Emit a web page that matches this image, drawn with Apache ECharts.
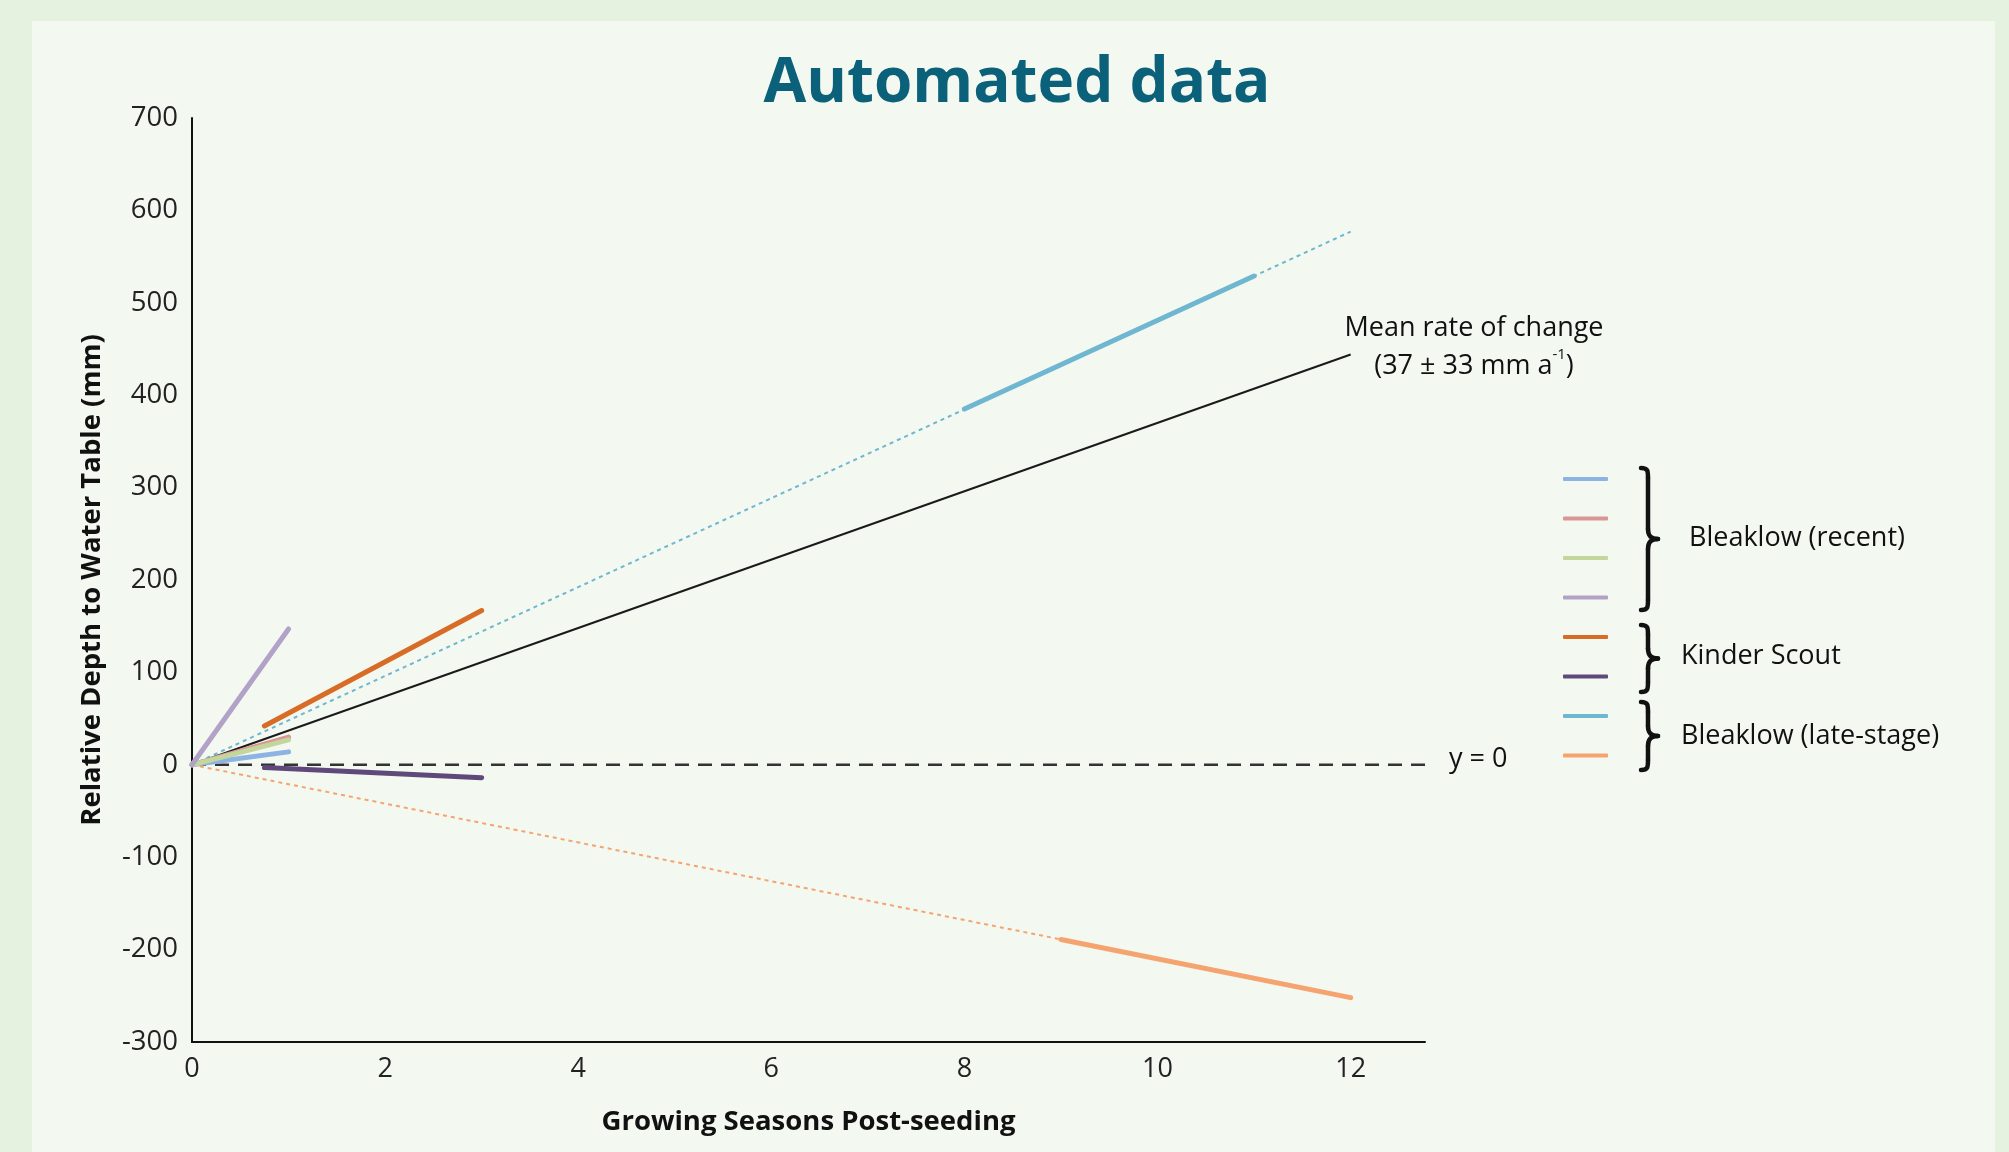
<!DOCTYPE html>
<html>
<head>
<meta charset="utf-8">
<script src="https://cdn.jsdelivr.net/npm/echarts@6/dist/echarts.min.js"></script>
<style>
html,body{margin:0;padding:0;background:#e4f2df;}
#chart{width:2009px;height:1152px;}
</style>
</head>
<body>
<div id="chart"></div>
<script>
// ---- data ----
const seasonsRecent = [0, 1];
const recentBlue = [0, 14];
const recentPink = [0, 30];
const recentGreen = [0, 27];
const recentLavender = [0, 147];

const seasonsKinder = [0.75, 3];
const kinderOrange = [42, 167];
const kinderPurple = [-3, -14];

const seasonsLateBlue = [8, 11];
const lateBlue = [385, 529];
const seasonsLateOrange = [9, 12];
const lateOrange = [-189, -252];

const trendSeasons = [0, 12];
const lateBlueTrend = [0, 577];
const lateOrangeTrend = [0, -252];
const meanTrend = [0, 444];

const zeroSeasons = [0, 12.77];
const zeroValues = [0, 0];

const yTicks = [-300, -200, -100, 0, 100, 200, 300, 400, 500, 600, 700];
const xTicks = [0, 2, 4, 6, 8, 10, 12];

const legendNames = ['Bleaklow (recent) 1', 'Bleaklow (recent) 2', 'Bleaklow (recent) 3', 'Bleaklow (recent) 4',
  'Kinder Scout 1', 'Kinder Scout 2', 'Bleaklow (late-stage) 1', 'Bleaklow (late-stage) 2'];
const groupLabels = ['Bleaklow (recent)', 'Kinder Scout', 'Bleaklow (late-stage)'];
const meanLabel = ['Mean rate of change', '(37 ± 33 mm a{sup|-1})'];

const C = {
  blue: '#8db3e2', pink: '#d99694', green: '#c3d69b', lav: '#b3a2c7',
  kOrange: '#d86b26', kPurple: '#5f497a', lBlue: '#6fb6d0', lOrange: '#f6a46f'
};

function pairs(xs, ys) { return xs.map((x, i) => [x, ys[i]]); }

function solid(name, xs, ys, color) {
  return { name, type: 'line', data: pairs(xs, ys), showSymbol: false, symbol: 'none', z: 5,
    color, itemStyle: { color }, lineStyle: { color, width: 5, cap: 'round' } };
}
function dotted(name, xs, ys, color, w, dash, z) {
  return { name, type: 'line', data: pairs(xs, ys), showSymbol: false, symbol: 'none', z: z || 3,
    color, itemStyle: { color }, lineStyle: { color, width: w, type: dash } };
}

function brace(x, y0, y1) {
  const s = 7, w = 17, r = 10, ym = (y0 + y1) / 2;
  const st = { stroke: '#111', lineWidth: 4.5, fill: null, lineCap: 'round' };
  const bz = (x1, y1_, cpx1, cpy1, cpx2, cpy2, x2, y2) => ({ type: 'bezierCurve',
    shape: { x1, y1: y1_, cpx1, cpy1, cpx2, cpy2, x2, y2 }, style: st });
  const ln = (x1, y1_, x2, y2) => ({ type: 'line', shape: { x1, y1: y1_, x2, y2 }, style: st });
  return { type: 'group', silent: true, children: [
    bz(x, y0, x + s, y0, x + s, y0 + 3, x + s, y0 + r),
    ln(x + s, y0 + r, x + s, ym - r),
    bz(x + s, ym - r, x + s, ym - 3, x + s + 3, ym, x + w, ym),
    bz(x + w, ym, x + s + 3, ym, x + s, ym + 3, x + s, ym + r),
    ln(x + s, ym + r, x + s, y1 - r),
    bz(x + s, y1 - r, x + s, y1 - 3, x + s, y1, x, y1)
  ] };
}

const chart = echarts.init(document.getElementById('chart'));
const font = '"Open Sans", "Liberation Sans", sans-serif';

const option = {
  animation: false,
  backgroundColor: '#e4f2df',
  textStyle: { fontFamily: font },
  title: {
    text: 'Automated data', left: 1012, top: 48, textAlign: 'center',
    textStyle: { fontFamily: font, fontWeight: 'bold', fontSize: 62, color: '#0b6179' }
  },
  grid: { left: 192, right: 584, top: 118, bottom: 110, containLabel: false },
  xAxis: {
    type: 'value', min: 0, max: 12.77, interval: 2,
    name: 'Growing Seasons Post-seeding', nameLocation: 'middle', nameGap: 66,
    nameTextStyle: { fontFamily: font, fontWeight: 'bold', fontSize: 27.5, color: '#111' },
    axisLine: { onZero: false, lineStyle: { color: '#111', width: 2 } },
    axisTick: { show: false }, splitLine: { show: false },
    axisLabel: { showMaxLabel: false, fontSize: 27, color: '#222', margin: 14,
      formatter: v => (xTicks.includes(v) ? String(v) : '') }
  },
  yAxis: {
    type: 'value', min: yTicks[0], max: yTicks[yTicks.length - 1], interval: 100,
    name: 'Relative Depth to Water Table (mm)', nameLocation: 'middle', nameGap: 86, nameRotate: 90,
    nameTextStyle: { fontFamily: font, fontWeight: 'bold', fontSize: 27.5, color: '#111' },
    axisLine: { show: true, onZero: false, lineStyle: { color: '#111', width: 2 } },
    axisTick: { show: false }, splitLine: { show: false },
    axisLabel: { fontSize: 27.5, color: '#222', margin: 14 }
  },
  legend: {
    data: legendNames, orient: 'vertical', left: 1558, top: 472,
    itemWidth: 45, itemHeight: 4, itemGap: 35.5, icon: 'roundRect',
    formatter: () => '', textStyle: { fontSize: 2 }, selectedMode: false
  },
  series: [
    solid(legendNames[0], seasonsRecent, recentBlue, C.blue),
    solid(legendNames[1], seasonsRecent, recentPink, C.pink),
    solid(legendNames[2], seasonsRecent, recentGreen, C.green),
    solid(legendNames[3], seasonsRecent, recentLavender, C.lav),
    solid(legendNames[4], seasonsKinder, kinderOrange, C.kOrange),
    solid(legendNames[5], seasonsKinder, kinderPurple, C.kPurple),
    solid(legendNames[6], seasonsLateBlue, lateBlue, C.lBlue),
    solid(legendNames[7], seasonsLateOrange, lateOrange, C.lOrange),
    dotted(legendNames[6], trendSeasons, lateBlueTrend, C.lBlue, 2, [4, 4]),
    dotted(legendNames[7], trendSeasons, lateOrangeTrend, C.lOrange, 2, [4, 4]),
    dotted('Mean rate of change', trendSeasons, meanTrend, '#1a1a1a', 2, 'solid', 4),
    dotted('y = 0', zeroSeasons, zeroValues, '#333333', 2.5, [14, 9], 2)
  ],
  graphic: [
    { type: 'rect', z: -10, silent: true, shape: { x: 32, y: 21, width: 1963, height: 1140 }, style: { fill: '#f3f8f1' } },
    brace(1641, 468, 610),
    brace(1641, 625, 692),
    brace(1641, 702, 770),
    { type: 'text', left: 1689, top: 525, style: { text: groupLabels[0], font: '27px ' + font, fill: '#111' } },
    { type: 'text', left: 1681, top: 643, style: { text: groupLabels[1], font: '27px ' + font, fill: '#111' } },
    { type: 'text', left: 1681, top: 723, style: { text: groupLabels[2], font: '27px ' + font, fill: '#111' } },
    { type: 'text', left: 1449, top: 746, style: { text: 'y = 0', font: '27px ' + font, fill: '#111' } },
    { type: 'text', x: 1474, y: 309, style: { text: meanLabel.join('\n'), align: 'center', lineHeight: 38,
        font: '27px ' + font, fill: '#111',
        rich: { sup: { fontSize: 15, verticalAlign: 'top', padding: [0, 0, 12, 0], fill: '#111', fontFamily: font } } } }
  ]
};
chart.setOption(option);
</script>
</body>
</html>
